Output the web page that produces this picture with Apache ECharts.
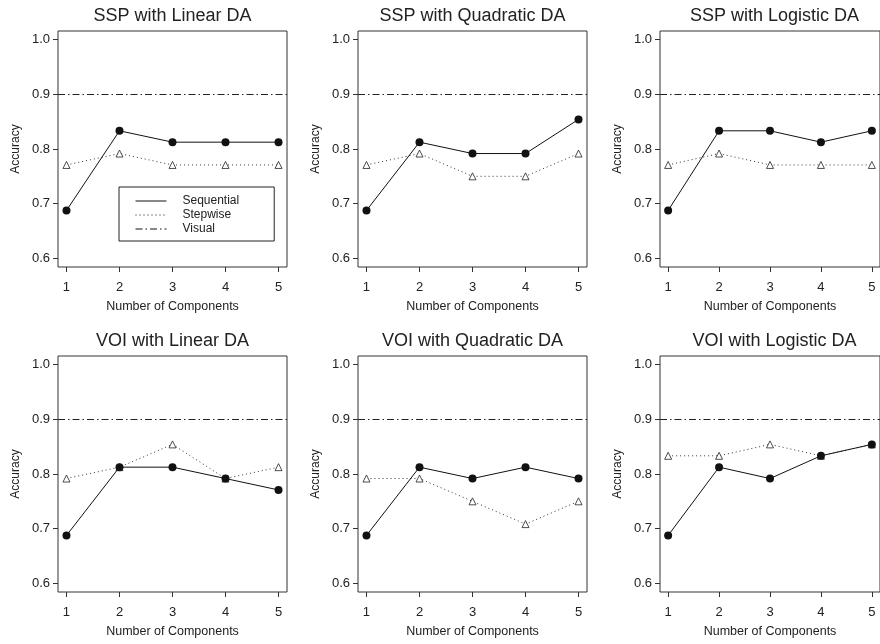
<!DOCTYPE html>
<html>
<head>
<meta charset="utf-8">
<script src="https://cdn.jsdelivr.net/npm/echarts@6/dist/echarts.min.js"></script>
<style>html,body{margin:0;padding:0;background:#fff}#c{width:880px;height:644px}</style>
</head>
<body>
<div id="c"></div>
<script>
const components = [1, 2, 3, 4, 5];
const yTicks = [0.6, 0.7, 0.8, 0.9, 1.0];
const titles = ['SSP with Linear DA', 'SSP with Quadratic DA', 'SSP with Logistic DA',
                'VOI with Linear DA', 'VOI with Quadratic DA', 'VOI with Logistic DA'];
const seqSSPLinear = [0.6875, 0.8333, 0.8125, 0.8125, 0.8125];
const stepSSPLinear = [0.7708, 0.7917, 0.7708, 0.7708, 0.7708];
const seqSSPQuad = [0.6875, 0.8125, 0.7917, 0.7917, 0.8542];
const stepSSPQuad = [0.7708, 0.7917, 0.75, 0.75, 0.7917];
const seqSSPLogit = [0.6875, 0.8333, 0.8333, 0.8125, 0.8333];
const stepSSPLogit = [0.7708, 0.7917, 0.7708, 0.7708, 0.7708];
const seqVOILinear = [0.6875, 0.8125, 0.8125, 0.7917, 0.7708];
const stepVOILinear = [0.7917, 0.8125, 0.8542, 0.7917, 0.8125];
const seqVOIQuad = [0.6875, 0.8125, 0.7917, 0.8125, 0.7917];
const stepVOIQuad = [0.7917, 0.7917, 0.75, 0.7083, 0.75];
const seqVOILogit = [0.6875, 0.8125, 0.7917, 0.8333, 0.8542];
const stepVOILogit = [0.8333, 0.8333, 0.8542, 0.8333, 0.8542];
const visualAccuracy = 0.8958;

const sequential = [seqSSPLinear, seqSSPQuad, seqSSPLogit, seqVOILinear, seqVOIQuad, seqVOILogit];
const stepwise = [stepSSPLinear, stepSSPQuad, stepSSPLogit, stepVOILinear, stepVOIQuad, stepVOILogit];

const FONT = 'Liberation Sans, Arial, Helvetica, sans-serif';
const INK = '#222';
const lefts = [58, 358, 660];
const tops = [31, 356];
const W = 229, H = 236;

const grids = [], xAxes = [], yAxes = [], series = [], titleArr = [];
for (let i = 0; i < 6; i++) {
  const r = Math.floor(i / 3), c = i % 3;
  grids.push({left: lefts[c], top: tops[r], width: W, height: H, show: true,
    borderColor: '#333', borderWidth: 1, backgroundColor: 'transparent', containLabel: false});
  xAxes.push({type: 'value', gridIndex: i, min: 0.84, max: 5.16,
    name: 'Number of Components', nameLocation: 'middle', nameGap: 33,
    nameTextStyle: {fontFamily: FONT, fontSize: 12.5, color: INK},
    axisLine: {show: false}, splitLine: {show: false},
    axisTick: {show: true, inside: false, length: 5, lineStyle: {color: '#333'}, customValues: components},
    axisLabel: {fontFamily: FONT, fontSize: 13, color: INK, margin: 14, customValues: components,
      formatter: v => String(Math.round(v))}
  });
  yAxes.push({type: 'value', gridIndex: i, min: 0.584, max: 1.016,
    name: 'Accuracy', nameLocation: 'middle', nameGap: 36, nameRotate: 90,
    nameTextStyle: {fontFamily: FONT, fontSize: 12, color: INK},
    axisLine: {show: false}, splitLine: {show: false},
    axisTick: {show: true, inside: false, length: 5, lineStyle: {color: '#333'}, customValues: yTicks},
    axisLabel: {fontFamily: FONT, fontSize: 13, color: INK, margin: 8, customValues: yTicks,
      formatter: v => v.toFixed(1)}
  });
  series.push({name: 'Sequential', type: 'line', xAxisIndex: i, yAxisIndex: i,
    data: components.map((x, k) => [x, sequential[i][k]]),
    symbol: 'circle', symbolSize: 8,
    itemStyle: {color: '#111'}, lineStyle: {color: '#111', width: 1, type: 'solid'},
    z: 4, animation: false});
  series.push({name: 'Stepwise', type: 'line', xAxisIndex: i, yAxisIndex: i,
    data: components.map((x, k) => [x, stepwise[i][k]]),
    symbol: 'triangle', symbolSize: 7, showAllSymbol: true,
    itemStyle: {color: '#fff', borderColor: '#222', borderWidth: 0.8},
    lineStyle: {color: '#333', width: 1, type: [1, 3]},
    z: 3, animation: false});
  series.push({name: 'Visual', type: 'line', xAxisIndex: i, yAxisIndex: i,
    data: [], symbol: 'none',
    lineStyle: {color: '#222', width: 1, type: [7, 3, 1.5, 3]},
    markLine: {silent: true, symbol: ['none', 'none'], label: {show: false},
      lineStyle: {color: '#222', width: 1, type: [7, 3, 1.5, 3]},
      data: [{yAxis: visualAccuracy}], animation: false},
    animation: false});
  titleArr.push({text: titles[i], left: lefts[c] + W / 2, top: tops[r] - 24, textAlign: 'center', padding: 0,
    textStyle: {fontFamily: FONT, fontSize: 18, fontWeight: 'normal', color: INK}});
}

const chart = echarts.init(document.getElementById('c'), null, {renderer: 'canvas'});
chart.setOption({
  backgroundColor: '#fff',
  animation: false,
  title: titleArr,
  grid: grids, xAxis: xAxes, yAxis: yAxes, series: series,
  legend: {
    data: ['Sequential', 'Stepwise', 'Visual'],
    orient: 'vertical', left: 119, top: 187,
    padding: [7, 35, 5, 16], itemGap: 0, itemWidth: 31, itemHeight: 10,
    borderColor: '#222', borderWidth: 1, borderRadius: 0,
    itemStyle: {opacity: 0},
    lineStyle: {width: 1, color: '#111', opacity: 1},
    textStyle: {fontFamily: FONT, fontSize: 12, color: INK, lineHeight: 14, padding: [0, 0, 0, 11]},
    selectedMode: false
  }
});
</script>
</body>
</html>
